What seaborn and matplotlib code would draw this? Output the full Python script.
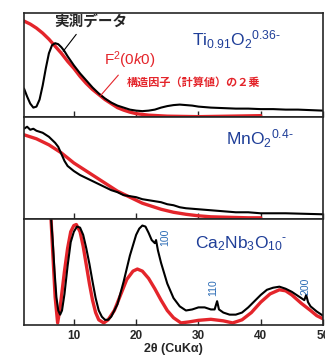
import numpy as np
import pandas as pd
import matplotlib
matplotlib.use('Agg')
import matplotlib.pyplot as plt
import seaborn as sns

# --- Ti0.91O2 panel (normalised intensity) ---
ti_obs_x = [2.0, 2.5, 3.0, 3.5, 4.0, 4.5, 5.0, 5.5, 6.0, 6.5, 7.0, 7.5, 8.0, 8.5, 9.0,
            10, 11, 12, 13, 14, 15, 16, 17, 18, 19, 20, 21, 22, 23, 24, 25, 26, 27, 28,
            29, 30, 32, 34, 36, 38, 40, 42, 44, 46, 48, 50]
ti_obs_y = [0.25, 0.17, 0.10, 0.06, 0.07, 0.14, 0.28, 0.45, 0.60, 0.68, 0.70, 0.69, 0.66,
            0.62, 0.57, 0.48, 0.40, 0.33, 0.26, 0.20, 0.15, 0.11, 0.08, 0.06, 0.04, 0.03,
            0.025, 0.03, 0.04, 0.06, 0.075, 0.085, 0.09, 0.085, 0.08, 0.07, 0.06, 0.055,
            0.05, 0.05, 0.045, 0.045, 0.04, 0.04, 0.035, 0.03]
ti_calc_x = [2, 3, 4, 5, 6, 7, 8, 9, 10, 11, 12, 13, 14, 15, 16, 17, 18, 19, 20, 22, 25,
             30, 35, 40]
ti_calc_y = [0.92, 0.89, 0.85, 0.80, 0.74, 0.67, 0.60, 0.52, 0.45, 0.37, 0.30, 0.24, 0.19,
             0.14, 0.10, 0.06, 0.035, 0.015, 0.0, -0.015, -0.025, -0.03, -0.025, -0.02]

# --- MnO2 panel ---
mn_obs_x = [2.0, 2.5, 3.0, 3.5, 4, 5, 6, 7, 7.5, 8, 8.5, 9, 10, 11, 12, 13, 14, 15, 16,
            17, 18, 19, 20, 21, 22, 23, 24, 25, 26, 27, 28, 30, 32, 34, 36, 38, 40, 44,
            47, 50]
mn_obs_y = [0.88, 0.90, 0.87, 0.88, 0.86, 0.84, 0.80, 0.74, 0.70, 0.63, 0.56, 0.51, 0.46,
            0.42, 0.39, 0.36, 0.33, 0.30, 0.27, 0.25, 0.22, 0.21, 0.20, 0.18, 0.17, 0.16,
            0.15, 0.13, 0.12, 0.10, 0.09, 0.08, 0.07, 0.06, 0.05, 0.05, 0.04, 0.04,
            0.035, 0.03]
mn_calc_x = [2, 3, 4, 5, 6, 7, 8, 9, 10, 11, 12, 13, 14, 15, 16, 17, 18, 19, 20, 21, 22,
             24, 26, 28, 30, 32, 35, 38, 40]
mn_calc_y = [0.82, 0.80, 0.78, 0.75, 0.72, 0.68, 0.64, 0.59, 0.54, 0.50, 0.46, 0.42, 0.38,
             0.34, 0.30, 0.26, 0.23, 0.20, 0.17, 0.14, 0.12, 0.08, 0.05, 0.03, 0.015,
             0.005, 0.0, -0.005, -0.005]

# --- Ca2Nb3O10 panel ---
ca_obs_x = [6.3, 6.6, 6.9, 7.2, 7.5, 7.8, 8.1, 8.5, 9.0, 9.5, 10.0, 10.5, 11.0, 11.5, 12,
            12.5, 13, 13.5, 14, 14.5, 15, 15.5, 16, 17, 18, 19, 20, 20.5, 21, 21.5, 22,
            22.5, 23, 23.2, 23.5, 24, 25, 26, 27, 28, 29, 30, 31, 32, 32.6, 33, 33.3, 34,
            35, 36, 37, 38, 39, 40, 41, 42, 43, 44, 45, 46, 47, 47.3, 47.6, 48, 49, 50]
ca_obs_y = [1.05, 0.80, 0.50, 0.25, 0.12, 0.08, 0.12, 0.28, 0.55, 0.78, 0.88, 0.93, 0.92,
            0.85, 0.72, 0.57, 0.40, 0.24, 0.12, 0.06, 0.03, 0.03, 0.06, 0.18, 0.40, 0.65,
            0.85, 0.91, 0.94, 0.93, 0.87, 0.80, 0.77, 0.80, 0.70, 0.58, 0.38, 0.24, 0.16,
            0.12, 0.13, 0.15, 0.15, 0.13, 0.13, 0.21, 0.13, 0.10, 0.08, 0.08, 0.10, 0.15,
            0.21, 0.27, 0.32, 0.34, 0.35, 0.33, 0.30, 0.26, 0.22, 0.27, 0.20, 0.16, 0.11,
            0.07]
ca_calc_x = [6.3, 6.6, 7.0, 7.4, 7.8, 8.5, 9.0, 9.5, 10.0, 10.4, 11, 11.5, 12, 12.5, 13,
             13.5, 14, 14.8, 15.5, 16.5, 17.5, 18.5, 19.5, 20.2, 21, 22, 23, 24, 25, 26,
             27.2, 28.5, 30, 32, 34, 35.5, 37, 38.5, 40, 41.5, 43, 44, 45, 46.5, 48, 49, 50]
ca_calc_y = [1.05, 0.70, 0.25, 0.0, 0.15, 0.50, 0.72, 0.88, 0.94, 0.95, 0.88, 0.74, 0.56,
             0.38, 0.22, 0.10, 0.03, 0.0, 0.03, 0.12, 0.27, 0.42, 0.50, 0.52, 0.50, 0.43,
             0.33, 0.22, 0.12, 0.05, 0.0, 0.01, 0.025, 0.035, 0.02, 0.0, 0.03, 0.10, 0.20,
             0.28, 0.32, 0.31, 0.27, 0.19, 0.12, 0.07, 0.04]

peak_labels = ['100', '110', '200']
peak_pos = [(165, 237), (213, 288), (305, 286)]   # pixel positions of index labels

sns.set_style('ticks')
plt.rcParams['font.family'] = ['Liberation Sans', 'Noto Sans CJK JP', 'DejaVu Sans']
plt.rcParams['mathtext.fontset'] = 'custom'
plt.rcParams['mathtext.rm'] = 'Liberation Sans'
plt.rcParams['mathtext.it'] = 'Liberation Sans:italic'
plt.rcParams['mathtext.default'] = 'regular'

RED = '#e4252b'
BLUE = '#1f3e98'
LBLUE = '#2a6bb5'
W, H = 325, 360
HY = '\u2010'  # plain hyphen, mathtext would turn '-' into a minus

fig, axes = plt.subplots(3, 1, figsize=(3.25, 3.6), dpi=100, sharex=True,
                         gridspec_kw=dict(hspace=0.0, height_ratios=[103, 102, 105]))
fig.subplots_adjust(left=24/W, right=323/W, top=1-13/H, bottom=1-325/H)

panels = [(ti_obs_x, ti_obs_y, ti_calc_x, ti_calc_y),
          (mn_obs_x, mn_obs_y, mn_calc_x, mn_calc_y),
          (ca_obs_x, ca_obs_y, ca_calc_x, ca_calc_y)]

for ax, (ox, oy, cx, cy) in zip(axes, panels):
    sns.lineplot(x=cx, y=cy, ax=ax, color=RED, lw=2.4, estimator=None, sort=False)
    sns.lineplot(x=ox, y=oy, ax=ax, color='black', lw=1.5, estimator=None, sort=False)
    ax.set_xlim(2, 50)
    ax.set_ylim(-0.02, 1.0)
    ax.set_yticks([])
    ax.set_ylabel('')
    for s in ax.spines.values():
        s.set_linewidth(1.2)
    ax.tick_params(axis='x', direction='in', length=4, width=1, labelsize=8.5)

axes[0].set_ylim(-0.03, 1.0)
axes[2].set_xticks([10, 20, 30, 40, 50])
axes[2].set_xlabel('2θ (CuKα)', fontsize=9, fontweight='bold', labelpad=1)
for lab in axes[2].get_xticklabels():
    lab.set_fontweight('bold')

# formula labels
fig.text(192/W, 1-46/H, r'Ti$_{0.91}$O$_2$$^{0.36' + HY + '}$', color=BLUE, fontsize=12.5,
         va='baseline')
fig.text(226/W, 1-145/H, r'MnO$_2$$^{0.4' + HY + '}$', color=BLUE, fontsize=12.5,
         va='baseline')
fig.text(195/W, 1-248/H, r'Ca$_2$Nb$_3$O$_{10}$$^{' + HY + '}$', color=BLUE, fontsize=12.5,
         va='baseline')

for lab, (px, py) in zip(peak_labels, peak_pos):
    fig.text(px/W, 1-py/H, lab, color=LBLUE, fontsize=7.5, rotation=90,
             ha='center', va='center')

# annotations
axes[0].annotate('実測データ', xy=(8.3, 0.62), xytext=(54/W, 1-22/H),
                 textcoords='figure fraction', fontsize=10.5, fontweight='bold',
                 va='center', family=['Noto Sans CJK JP'],
                 arrowprops=dict(arrowstyle='-', color='black', lw=0.8,
                                 shrinkA=1, shrinkB=0, relpos=(0.35, 0.0)))
axes[0].annotate(r'F$^2$(0$\it{k}$0)', xy=(14.3, 0.18), xytext=(104/W, 1-60/H),
                 textcoords='figure fraction', fontsize=11, color=RED,
                 va='center', arrowprops=dict(arrowstyle='-', color=RED, lw=0.8,
                                              shrinkA=1, shrinkB=0, relpos=(0.35, 0.0)))
fig.text(127/W, 1-82/H, '構造因子（計算値）の２乗', color=RED, fontsize=8,
         fontweight='bold', va='center', family=['Noto Sans CJK JP'])

plt.savefig('out.png', dpi=100)
